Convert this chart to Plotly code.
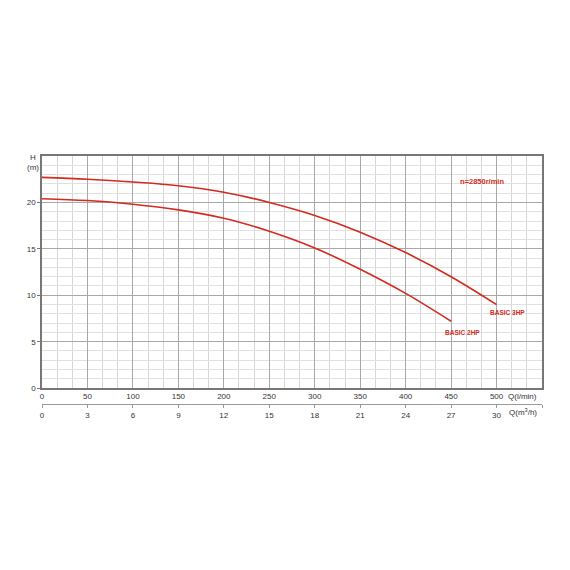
import plotly.graph_objects as go

# flow in l/min, head in m
q_3hp = [0, 50, 100, 150, 200, 250, 300, 350, 400, 450, 500]
h_3hp = [22.7, 22.5, 22.2, 21.8, 21.1, 20.0, 18.6, 16.8, 14.6, 12.0, 9.0]

q_2hp = [0, 50, 100, 150, 200, 250, 300, 350, 400, 450]
h_2hp = [20.4, 20.2, 19.8, 19.2, 18.3, 16.9, 15.1, 12.8, 10.2, 7.2]

lpm_ticks = [0, 50, 100, 150, 200, 250, 300, 350, 400, 450, 500]
m3h_ticks = [0, 3, 6, 9, 12, 15, 18, 21, 24, 27, 30, 33]
m3h_labels = ['0', '3', '6', '9', '12', '15', '18', '21', '24', '27', '30', '']
head_ticks = [0, 5, 10, 15, 20]

red = '#d42a20'
font = dict(family='Liberation Sans, Arial', size=8, color='#333')

fig = go.Figure()
fig.add_trace(go.Scatter(x=q_3hp, y=h_3hp, mode='lines', line=dict(color=red, width=1.6, shape='spline'),
                         showlegend=False, hoverinfo='skip'))
fig.add_trace(go.Scatter(x=q_2hp, y=h_2hp, mode='lines', line=dict(color=red, width=1.6, shape='spline'),
                         showlegend=False, hoverinfo='skip'))
# invisible trace so xaxis2 gets drawn
fig.add_trace(go.Scatter(x=[0, 33], y=[0, 0], xaxis='x2', mode='lines', line=dict(width=0),
                         showlegend=False, hoverinfo='skip'))

fig.update_layout(
    width=570, height=570,
    margin=dict(l=34, r=36, t=148, b=174, autoexpand=False),
    paper_bgcolor='white', plot_bgcolor='white',
    font=font,
    xaxis=dict(range=[0, 550], tickvals=lpm_ticks, showgrid=True, gridcolor='#a8a8a8', gridwidth=1.2,
               minor=dict(dtick=50 / 3, tick0=0, showgrid=True, gridcolor='#d6d6d6', gridwidth=1),
               showline=True, linecolor='#777', linewidth=1.5, mirror=True, zeroline=False,
               ticks='', tickfont=font, automargin=False),
    xaxis2=dict(range=[0, 33], tickvals=m3h_ticks, ticktext=m3h_labels, overlaying='x', anchor='free',
                position=0, side='bottom', showgrid=False, showline=True, linecolor='#999', linewidth=1,
                ticks='outside', ticklen=3, tickcolor='#999', tickfont=font, zeroline=False,
                automargin=False),
    yaxis=dict(range=[0, 25], domain=[0.064, 1], tickvals=head_ticks, showgrid=True, gridcolor='#a8a8a8',
               gridwidth=1.2, minor=dict(dtick=1, showgrid=True, gridcolor='#e0e0e0', gridwidth=1),
               showline=True, linecolor='#777', linewidth=1.5, mirror=True, zeroline=False,
               ticks='outside', ticklen=3, tickcolor='#777', tickfont=font, automargin=False),
)

ann = [
    dict(x=-0.018, y=1.0, xref='paper', yref='y domain', text='H<br>(m)', showarrow=False,
         xanchor='center', yanchor='middle', font=font, yshift=-6),
    dict(x=529, y=0.032, xref='x', yref='paper', text='Q(l/min)', showarrow=False,
         xanchor='center', yanchor='middle', font=font),
    dict(x=529, y=-0.034, xref='x', yref='paper', text='Q(m<sup>3</sup>/h)', showarrow=False,
         xanchor='center', yanchor='middle', font=font),
    dict(x=484, y=22.3, xref='x', yref='y', text='<b>n=2850r/min</b>', showarrow=False,
         font=dict(family='Liberation Sans, Arial', size=7.5, color=red)),
    dict(x=512, y=8.1, xref='x', yref='y', text='<b>BASIC 3HP</b>', showarrow=False,
         font=dict(family='Liberation Sans, Arial', size=6.5, color=red)),
    dict(x=462, y=6.0, xref='x', yref='y', text='<b>BASIC 2HP</b>', showarrow=False,
         font=dict(family='Liberation Sans, Arial', size=6.5, color=red)),
]
fig.update_layout(annotations=ann)

fig.write_html("out.html")
